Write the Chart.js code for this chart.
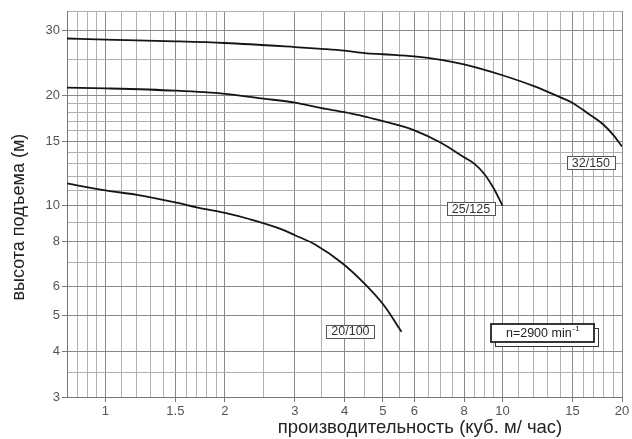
<!DOCTYPE html>
<html>
<head>
<meta charset="utf-8">
<script src="https://cdn.jsdelivr.net/npm/chart.js@4.4.1/dist/chart.umd.min.js"></script>
<style>
  html, body { margin: 0; padding: 0; background: #fff; }
  #wrap { width: 632px; height: 439px; }
</style>
</head>
<body>
<div id="wrap"><canvas id="pumpChart" width="632" height="439"></canvas></div>
<script>
// --- DATA ---
// x: производительность (м3/ч), y: высота подъема (м)
const flow150 = [0.8, 1, 1.5, 2, 3, 3.5, 4, 4.5, 5, 6, 7, 8, 8.7, 10, 12, 14, 15, 16, 17, 18, 19, 20];
const head150 = [28.6, 28.4, 28.1, 27.8, 27.1, 26.8, 26.5, 26.1, 25.9, 25.55, 25.0, 24.3, 23.75, 22.7, 21.2, 19.75, 19.1, 18.2, 17.4, 16.6, 15.6, 14.5];

const flow125 = [0.8, 1, 1.5, 2, 2.5, 3, 3.5, 4, 4.5, 5, 5.5, 6, 7, 8, 8.5, 9, 9.5, 10];
const head125 = [21.0, 20.9, 20.6, 20.2, 19.6, 19.1, 18.45, 18.0, 17.5, 17.0, 16.55, 16.05, 14.85, 13.55, 13.0, 12.2, 11.15, 10.0];

const flow100 = [0.8, 1, 1.2, 1.5, 1.72, 2, 2.3, 2.79, 3, 3.38, 3.95, 4.48, 5.02, 5.57];
const head100 = [11.5, 11.0, 10.7, 10.2, 9.86, 9.55, 9.19, 8.6, 8.3, 7.82, 6.96, 6.14, 5.35, 4.52];

// подписи кривых и их положение (в единицах осей)
const curveNames = ['32/150', '25/125', '20/100'];
const nameFlow = [16.7, 8.33, 4.14];
const nameHead = [13.1, 9.81, 4.53];

// оси
const flowLabels = [1, 1.5, 2, 3, 4, 5, 6, 8, 10, 15, 20];
const flowGrid = [0.8, 0.85, 0.9, 0.95, 1, 1.1, 1.2, 1.3, 1.4, 1.5, 1.6, 1.7, 1.8, 1.9, 2, 2.5, 3, 3.5, 4, 4.5, 5, 5.5, 6, 6.5, 7, 7.5, 8, 8.5, 9, 9.5, 10, 11, 12, 13, 14, 15, 16, 17, 18, 19, 20];
const headLabels = [3, 4, 5, 6, 8, 10, 15, 20, 30];
const headGrid = [3, 3.5, 4, 5, 6, 7, 8, 9, 10, 11, 12, 13, 14, 15, 16, 17, 18, 19, 20, 25, 30, 34];

const xTitle = 'производительность (куб. м/ час)';
const yTitle = 'высота подъема (м)';
const speedNote = 'n=2900 min';
const speedSup = '-1';

// --- CONFIG ---
const FONT = "'Liberation Sans', Arial, sans-serif";
Chart.defaults.font.family = FONT;

function toPoints(xs, ys) {
    return xs.map((x, i) => ({ x: x, y: ys[i] }));
}

function gridColor(labels) {
    return ctx => (ctx.tick && labels.includes(ctx.tick.value)) ? '#8a8a8a' : '#b0b0b0';
}
function tickMarkColor(labels) {
    return ctx => (ctx.tick && labels.includes(ctx.tick.value)) ? '#777' : 'rgba(0,0,0,0)';
}

const lineStyle = {
    borderColor: '#151515',
    borderWidth: 1.8,
    pointRadius: 0,
    cubicInterpolationMode: 'monotone',
    fill: false
};

// подписи, заголовки осей и табличка n
const annotations = {
    id: 'annotations',
    afterDraw(chart) {
        const c = chart.ctx;
        const area = chart.chartArea;
        const xs = chart.scales.x, ys = chart.scales.y;
        c.save();

        // заголовки осей
        c.fillStyle = '#222';
        c.font = '18.5px ' + FONT;
        c.textAlign = 'center';
        c.textBaseline = 'middle';
        c.fillText(xTitle, area.left + (area.right - area.left) * 0.636, 428);

        c.save();
        c.font = '18px ' + FONT;
        c.translate(19, area.top + (area.bottom - area.top) * 0.534);
        c.rotate(-Math.PI / 2);
        c.fillText(yTitle, 0, 0);
        c.restore();

        // подписи кривых
        c.font = '12.5px ' + FONT;
        curveNames.forEach((name, i) => {
            const px = xs.getPixelForValue(nameFlow[i]);
            const py = ys.getPixelForValue(nameHead[i]);
            const w = c.measureText(name).width + 10;
            const h = 13;
            c.fillStyle = '#fff';
            c.fillRect(px - w / 2, py - h / 2, w, h);
            c.strokeStyle = '#555';
            c.lineWidth = 1;
            c.strokeRect(Math.round(px - w / 2) + 0.5, Math.round(py - h / 2) + 0.5, Math.round(w), h);
            c.fillStyle = '#333';
            c.fillText(name, px, py + 0.5);
        });

        // табличка с частотой вращения
        const bx = xs.getPixelForValue(12.6);
        const by = ys.getPixelForValue(4.5);
        const bw = 103, bh = 18;
        const left = Math.round(bx - bw / 2), top = Math.round(by - bh / 2);
        c.fillStyle = '#fff';
        c.strokeStyle = '#333';
        c.lineWidth = 1;
        c.fillRect(left + 4, top + 4, bw, bh);
        c.strokeRect(left + 4.5, top + 4.5, bw, bh);
        c.fillRect(left, top, bw, bh);
        c.lineWidth = 1.8;
        c.strokeStyle = '#222';
        c.strokeRect(left, top, bw, bh);

        c.fillStyle = '#222';
        c.textAlign = 'left';
        c.font = '12.5px ' + FONT;
        const mainW = c.measureText(speedNote).width;
        c.font = '8px ' + FONT;
        const supW = c.measureText(speedSup).width;
        const tx = bx - (mainW + supW) / 2;
        c.font = '12.5px ' + FONT;
        c.fillText(speedNote, tx, by + 1);
        c.font = '8px ' + FONT;
        c.fillText(speedSup, tx + mainW + 1, by - 4);

        c.restore();
    }
};

const ctx = document.getElementById('pumpChart').getContext('2d');
const pumpChart = new Chart(ctx, {
    type: 'line',
    data: {
        datasets: [
            Object.assign({ label: curveNames[0], data: toPoints(flow150, head150) }, lineStyle),
            Object.assign({ label: curveNames[1], data: toPoints(flow125, head125) }, lineStyle),
            Object.assign({ label: curveNames[2], data: toPoints(flow100, head100) }, lineStyle)
        ]
    },
    options: {
        responsive: false,
        animation: false,
        devicePixelRatio: 1,
        layout: { padding: { top: 11, right: 10, left: 0, bottom: 0 } },
        plugins: {
            legend: { display: false },
            tooltip: { enabled: false }
        },
        scales: {
            x: {
                type: 'logarithmic',
                min: 0.8,
                max: 20,
                afterBuildTicks: s => { s.ticks = flowGrid.map(v => ({ value: v })); },
                afterFit: s => { s.height = 42; },
                border: { color: '#777', width: 1 },
                grid: {
                    color: gridColor(flowLabels),
                    lineWidth: 1,
                    tickLength: 5,
                    tickColor: tickMarkColor(flowLabels)
                },
                ticks: {
                    autoSkip: false,
                    maxRotation: 0,
                    minRotation: 0,
                    padding: 2,
                    color: '#555',
                    font: { size: 13 },
                    callback: v => flowLabels.includes(v) ? String(v) : ''
                }
            },
            y: {
                type: 'logarithmic',
                min: 3,
                max: 34,
                afterBuildTicks: s => { s.ticks = headGrid.map(v => ({ value: v })); },
                afterFit: s => { s.width = 67; },
                border: { color: '#777', width: 1 },
                grid: {
                    color: gridColor(headLabels),
                    lineWidth: 1,
                    tickLength: 5,
                    tickColor: tickMarkColor(headLabels)
                },
                ticks: {
                    autoSkip: false,
                    padding: 2,
                    color: '#555',
                    font: { size: 13 },
                    callback: v => headLabels.includes(v) ? String(v) : ''
                }
            }
        }
    },
    plugins: [annotations]
});
</script>
</body>
</html>
